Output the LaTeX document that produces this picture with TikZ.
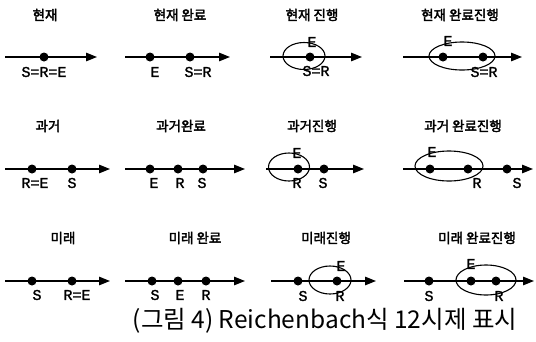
\documentclass[tikz,border=0pt]{standalone}
\usepackage{fontspec}
\usetikzlibrary{arrows.meta,shapes.geometric}
\newfontfamily\krfont{Noto Sans CJK KR}
\newfontfamily\krbold[FakeBold=2.5]{Noto Sans CJK KR}
\newfontfamily\labfont[FakeBold=1.5]{Liberation Mono}
\tikzset{
 ttl/.style={font=\krbold\fontsize{13.5}{15}\selectfont, inner sep=0},
 lab/.style={font=\labfont\fontsize{15}{17}\selectfont, inner sep=0},
 dot/.style={circle, fill, minimum size=9pt, inner sep=0},
 axis/.style={line width=1.3pt, -{Triangle[length=11pt,width=8.5pt]}},
 oval/.style={ellipse, draw, line width=1.1pt, inner sep=0},
}
\begin{document}
\begin{tikzpicture}[x=1pt,y=-1pt]
\useasboundingbox (0,0) rectangle (536,341);
% ===== Row 1 =====
\node[ttl] (t11) at (45,15) {현재};
\coordinate (s11) at (5,57); \coordinate (e11) at (97,57);
\draw[axis] (s11) -- (e11);
\node[dot] (d11a) at (44,57) {};
\node[lab] (l11a) at (44,72) {S=R=E};

\node[ttl] (t12) at (180,15) {현재 완료};
\coordinate (s12) at (125,57); \coordinate (e12) at (230,57);
\draw[axis] (s12) -- (e12);
\node[dot] (d12a) at (150,57) {};
\node[dot] (d12b) at (190,57) {};
\node[lab] (l12a) at (155,72) {E};
\node[lab] (l12b) at (198,72) {S=R};

\node[ttl] (t13) at (312,15) {현재 진행};
\coordinate (s13) at (270,57); \coordinate (e13) at (362,57);
\draw[axis] (s13) -- (e13);
\node[oval, minimum width=42pt, minimum height=27pt] (o13) at (304,56) {};
\node[dot] (d13a) at (310,57) {};
\node[lab] (l13a) at (312,42) {E};
\node[lab] (l13b) at (316,71) {S=R};

\node[ttl] (t14) at (460,15) {현재 완료진행};
\coordinate (s14) at (403,57); \coordinate (e14) at (522,57);
\draw[axis] (s14) -- (e14);
\node[oval, minimum width=66pt, minimum height=28pt] (o14) at (462,56) {};
\node[dot] (d14a) at (443,57) {};
\node[dot] (d14b) at (483,57) {};
\node[lab] (l14a) at (448,41) {E};
\node[lab] (l14b) at (484,72) {S=R};

% ===== Row 2 =====
\node[ttl] (t21) at (48,126) {과거};
\coordinate (s21) at (5,169); \coordinate (e21) at (110,169);
\draw[axis] (s21) -- (e21);
\node[dot] (d21a) at (32,169) {};
\node[dot] (d21b) at (72,169) {};
\node[lab] (l21a) at (35,183) {R=E};
\node[lab] (l21b) at (72,183) {S};

\node[ttl] (t22) at (181,126) {과거완료};
\coordinate (s22) at (125,169); \coordinate (e22) at (245,169);
\draw[axis] (s22) -- (e22);
\node[dot] (d22a) at (150,169) {};
\node[dot] (d22b) at (178,169) {};
\node[dot] (d22c) at (203,169) {};
\node[lab] (l22a) at (154,183) {E};
\node[lab] (l22b) at (180,183) {R};
\node[lab] (l22c) at (202,183) {S};

\node[ttl] (t23) at (312,126) {과거진행};
\coordinate (s23) at (266,169); \coordinate (e23) at (364,169);
\draw[axis] (s23) -- (e23);
\node[oval, minimum width=41pt, minimum height=28pt] (o23) at (289,167) {};
\node[dot] (d23a) at (298,169) {};
\node[dot] (d23b) at (324,169) {};
\node[lab] (l23a) at (297,153) {E};
\node[lab] (l23b) at (297,183) {R};
\node[lab] (l23c) at (323,183) {S};

\node[ttl] (t24) at (463,126) {과거 완료진행};
\coordinate (s24) at (403,169); \coordinate (e24) at (533,169);
\draw[axis] (s24) -- (e24);
\node[oval, minimum width=68pt, minimum height=30pt] (o24) at (449,166) {};
\node[dot] (d24a) at (430,169) {};
\node[dot] (d24b) at (468,169) {};
\node[dot] (d24c) at (507,169) {};
\node[lab] (l24a) at (432,152) {E};
\node[lab] (l24b) at (477,183) {R};
\node[lab] (l24c) at (517,183) {S};

% ===== Row 3 =====
\node[ttl] (t31) at (63,238) {미래};
\coordinate (s31) at (5,281); \coordinate (e31) at (110,281);
\draw[axis] (s31) -- (e31);
\node[dot] (d31a) at (32,281) {};
\node[dot] (d31b) at (72,281) {};
\node[lab] (l31a) at (37,295) {S};
\node[lab] (l31b) at (77,295) {R=E};

\node[ttl] (t32) at (195,238) {미래 완료};
\coordinate (s32) at (125,281); \coordinate (e32) at (245,281);
\draw[axis] (s32) -- (e32);
\node[dot] (d32a) at (152,281) {};
\node[dot] (d32b) at (178,281) {};
\node[dot] (d32c) at (206,281) {};
\node[lab] (l32a) at (155,295) {S};
\node[lab] (l32b) at (180,295) {E};
\node[lab] (l32c) at (206,295) {R};

\node[ttl] (t33) at (326,238) {미래진행};
\coordinate (s33) at (271,281); \coordinate (e33) at (376,281);
\draw[axis] (s33) -- (e33);
\node[oval, minimum width=42pt, minimum height=28pt] (o33) at (330,280) {};
\node[dot] (d33a) at (298,281) {};
\node[dot] (d33b) at (337,281) {};
\node[lab] (l33a) at (341,266) {E};
\node[lab] (l33b) at (340,296) {R};
\node[lab] (l33c) at (303,296) {S};

\node[ttl] (t34) at (477,238) {미래 완료진행};
\coordinate (s34) at (404,281); \coordinate (e34) at (534,281);
\draw[axis] (s34) -- (e34);
\node[oval, minimum width=60pt, minimum height=30pt] (o34) at (486,280) {};
\node[dot] (d34a) at (429,281) {};
\node[dot] (d34b) at (471,281) {};
\node[dot] (d34c) at (496,281) {};
\node[lab] (l34a) at (471,264) {E};
\node[lab] (l34b) at (499,296) {R};
\node[lab] (l34c) at (429,296) {S};

% ===== Caption =====
\node[font=\krfont\fontsize{24.5}{27}\selectfont, inner sep=0] (cap) at (325,321) {(그림 4) Reichenbach식 12시제 표시};
\end{tikzpicture}
\end{document}
